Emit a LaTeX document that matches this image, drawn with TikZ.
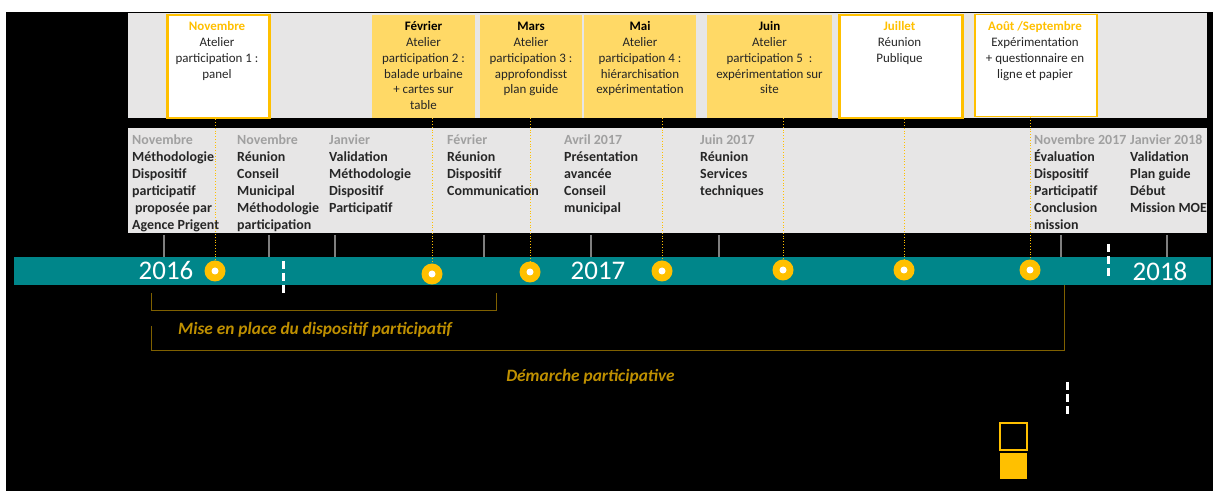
\documentclass[tikz,border=0pt]{standalone}
\usepackage{fontspec}
\setmainfont{Carlito}
\definecolor{orc}{HTML}{FFC000}
\definecolor{yel}{HTML}{FFD966}
\definecolor{bandc}{HTML}{E7E6E6}
\definecolor{tealc}{HTML}{00868A}
\definecolor{dgold}{HTML}{7F6000}
\definecolor{lgold}{HTML}{BF9000}
\definecolor{gtitle}{HTML}{A0A0A0}
\definecolor{tickc}{HTML}{7F7F7F}
\definecolor{txt}{HTML}{262626}
\newcommand{\mystrut}{\rule{0pt}{10.5bp}}
\begin{document}
\begin{tikzpicture}[x=1bp,y=-1bp,
  wbox/.style={draw=orc,line width=2.5bp,fill=white,inner sep=0,anchor=north west},
  ybox/.style={fill=yel,inner sep=0,anchor=north west},
  boxtext/.style={anchor=north,inner sep=0,align=center,text=txt,font=\fontsize{13}{16}\selectfont},
  coltext/.style={anchor=north west,inner sep=0,align=left,text=txt,font=\fontsize{14}{17}\selectfont\bfseries},
  evdot/.style={circle,fill=orc,minimum size=21bp,inner sep=0},
  guide/.style={orc,line width=0.8bp,dotted},
  tick/.style={tickc,line width=2bp},
  sep/.style={white,line width=3bp,dash pattern=on 8bp off 4bp},
  year/.style={text=white,inner sep=0,font=\fontsize{27}{30}\selectfont},
  bracket/.style={dgold,line width=1bp},
  phase/.style={text=lgold,inner sep=0,font=\fontsize{17.4}{20}\selectfont\bfseries\itshape}
]
\useasboundingbox (0,0) rectangle (1213,491);
\fill[white] (0,0) rectangle (1213,491);
\fill[black] (6,12) rectangle (1213,491);
% top band
\fill[bandc] (128,13) rectangle (1207,118);
\node[wbox,minimum width=102bp,minimum height=103bp] (b1) at (166,14) {};
\node[ybox,minimum width=103bp,minimum height=103bp] (b2) at (372,15) {};
\node[ybox,minimum width=102bp,minimum height=103bp] (b3) at (480,15) {};
\node[ybox,minimum width=112bp,minimum height=103bp] (b4) at (584,15) {};
\node[ybox,minimum width=125bp,minimum height=103bp] (b5) at (707,15) {};
\node[wbox,minimum width=123bp,minimum height=103bp] (b6) at (838,14) {};
\node[wbox,line width=1.5bp,minimum width=122bp,minimum height=102bp] (b7) at (974,14) {};
\node[boxtext] (t1) at (217,19.5) {\mystrut{\color{orc}\bfseries Novembre}\\Atelier\\participation 1 :\\panel};
\node[boxtext] (t2) at (423.5,19.5) {\mystrut{\color{black}\bfseries Février}\\Atelier\\participation 2 :\\balade urbaine\\+ cartes sur\\table};
\node[boxtext] (t3) at (531,19.5) {\mystrut{\color{black}\bfseries Mars}\\Atelier\\participation 3 :\\approfondisst\\plan guide};
\node[boxtext] (t4) at (640,19.5) {\mystrut{\color{black}\bfseries Mai}\\Atelier\\participation 4 :\\hiérarchisation\\expérimentation};
\node[boxtext] (t5) at (769.5,19.5) {\mystrut{\color{black}\bfseries Juin}\\Atelier\\participation 5\ \ :\\expérimentation sur\\site};
\node[boxtext] (t6) at (899.5,19.5) {\mystrut{\color{orc}\bfseries Juillet}\\Réunion\\Publique};
\node[boxtext] (t7) at (1035,19.5) {\mystrut{\color{orc}\bfseries Août /Septembre}\\Expérimentation\\+ questionnaire en\\ligne et papier};
% second band
\fill[bandc] (128,128) rectangle (1207,233);
% timeline bar
\fill[tealc] (14,257) rectangle (1211,285);
% event dots
\node[evdot] (c1) at (215,271) {};
\node[evdot] (c2) at (432,274) {};
\node[evdot] (c3) at (530,272) {};
\node[evdot] (c4) at (662,271) {};
\node[evdot] (c5) at (783,270) {};
\node[evdot] (c6) at (904,270) {};
\node[evdot] (c7) at (1030,270) {};
% guides from boxes to dots
\foreach \b/\c in {b1/c1,b2/c2,b3/c3,b4/c4,b5/c5,b6/c6,b7/c7}
  \draw[guide] (\b.south -| \c) -- (\c.north);
\foreach \c in {c1,c2,c3,c4,c5,c6,c7}
  \fill[white] (\c) circle[radius=3.5bp];
% column texts
\node[coltext] (k1) at (132,134) {\mystrut{\color{gtitle}Novembre}\\Méthodologie\\Dispositif\\participatif\\\hspace*{3bp}proposée par\\Agence Prigent};
\node[coltext] (k2) at (237,134) {\mystrut{\color{gtitle}Novembre}\\Réunion\\Conseil\\Municipal\\Méthodologie\\participation};
\node[coltext] (k3) at (329,134) {\mystrut{\color{gtitle}Janvier}\\Validation\\Méthodologie\\Dispositif\\Participatif};
\node[coltext] (k4) at (447,134) {\mystrut{\color{gtitle}Février}\\Réunion\\Dispositif\\Communication};
\node[coltext] (k5) at (564,134) {\mystrut{\color{gtitle}Avril 2017}\\Présentation\\avancée\\Conseil\\municipal};
\node[coltext] (k6) at (700,134) {\mystrut{\color{gtitle}Juin 2017}\\Réunion\\Services\\techniques};
\node[coltext] (k7) at (1034,134) {\mystrut{\color{gtitle}Novembre 2017}\\Évaluation\\Dispositif\\Participatif\\Conclusion\\mission};
\node[coltext] (k8) at (1130,134) {\mystrut{\color{gtitle}Janvier 2018}\\Validation\\Plan guide\\Début\\Mission MOE};
% ticks
\foreach \x [count=\i] in {164,269,335,484,591,719,1061,1167}{
  \coordinate (ta\i) at (\x,235);
  \coordinate (tb\i) at (\x,257);
  \draw[tick] (ta\i) -- (tb\i);
}
% years
\node[year] (y1) at (166,271) {2016};
\node[year] (y2) at (598,271) {2017};
\node[year] (y3) at (1160,271) {2018};
% separators
\draw[sep] (283,261) -- (283,296);
\draw[sep] (1108,244) -- (1108,279);
\draw[sep] (1067,382) -- (1067,418);
% brackets
\coordinate (p1) at (151,293);
\coordinate (p2) at (151,311);
\coordinate (p3) at (496,311);
\coordinate (p4) at (496,293);
\draw[bracket] (p1) -- (p2) -- (p3) -- (p4);
\coordinate (q1) at (151,326);
\coordinate (q2) at (151,351);
\coordinate (q3) at (1064,351);
\coordinate (q4) at (1064,285);
\draw[bracket] (q1) -- (q2) -- (q3) -- (q4);
\node[phase] (l1) at (315,330) {Mise en place du dispositif participatif};
\node[phase] (l2) at (590.5,377) {Démarche participative};
% legend
\draw[orc,line width=2bp] (1000,423) rectangle (1027,450);
\fill[orc] (1000,453) rectangle (1027,479);
\end{tikzpicture}
\end{document}
